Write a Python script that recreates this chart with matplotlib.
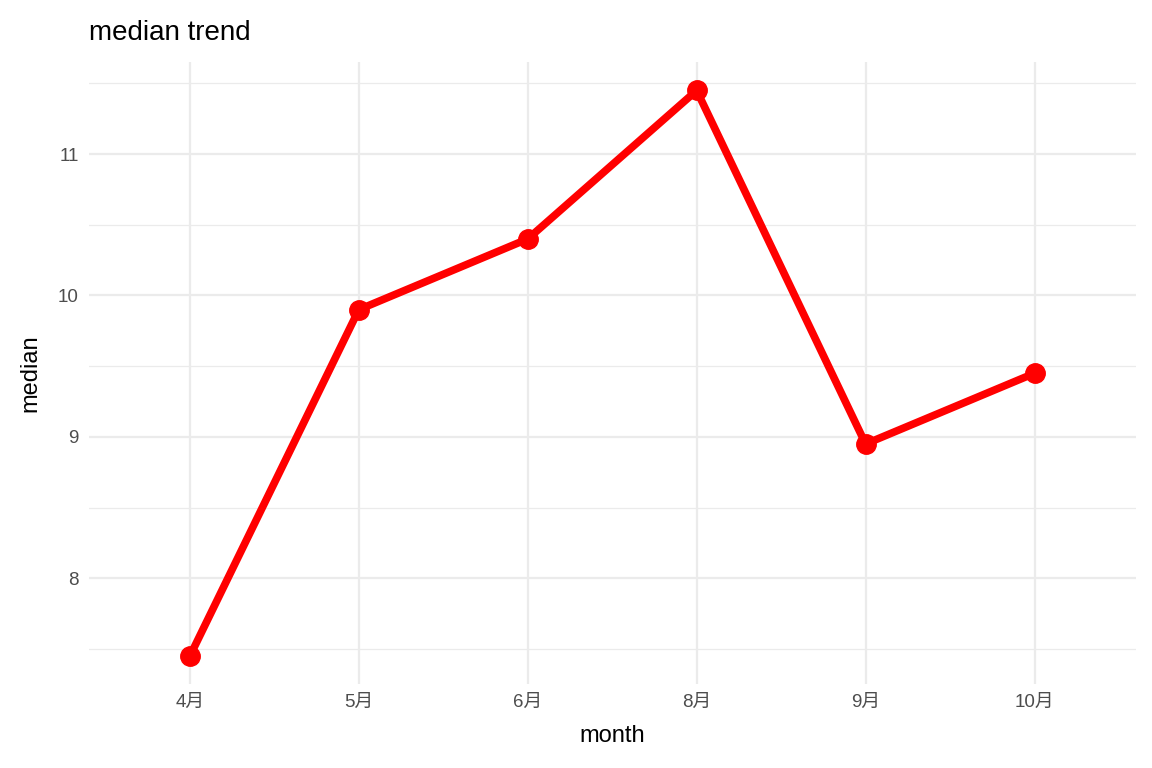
import matplotlib
matplotlib.use("Agg")
import matplotlib.pyplot as plt
import numpy as np

months = ["4月", "5月", "6月", "8月", "9月", "10月"]
median = [7.45, 9.90, 10.40, 11.45, 8.95, 9.45]

plt.rcParams['font.family'] = ['Liberation Sans', 'Noto Sans CJK SC', 'DejaVu Sans']

fig = plt.figure(figsize=(11.52, 7.68), dpi=100)
ax = fig.add_axes([0.0769, 0.109, 0.9091, 0.810])

x = np.arange(len(months))
ax.plot(x, median, color="#FF0000", lw=5.5, solid_capstyle="butt", zorder=3)
ax.plot(x, median, "o", color="#FF0000", ms=14, zorder=4)

ax.set_xlim(-0.6, len(months) - 1 + 0.6)
ax.set_ylim(7.25, 11.65)
ax.set_xticks(x)
ax.set_xticklabels(months)
ax.set_yticks([8, 9, 10, 11])
ax.set_yticks([7.5, 8.5, 9.5, 10.5, 11.5], minor=True)

ax.grid(True, which="major", color="#EBEBEB", lw=1.6, zorder=0)
ax.grid(True, which="minor", axis="y", color="#EBEBEB", lw=0.9, zorder=0)
for s in ax.spines.values():
    s.set_visible(False)
ax.tick_params(which="both", length=0, labelsize=13.5, labelcolor="#4D4D4D", pad=7)

ax.set_xlabel("month", fontsize=17, color="black", labelpad=10)
ax.set_ylabel("median", fontsize=17, color="black", labelpad=12)
ax.set_title("median trend", fontsize=20, loc="left", pad=16, color="black")

fig.savefig("out.png", dpi=100)
